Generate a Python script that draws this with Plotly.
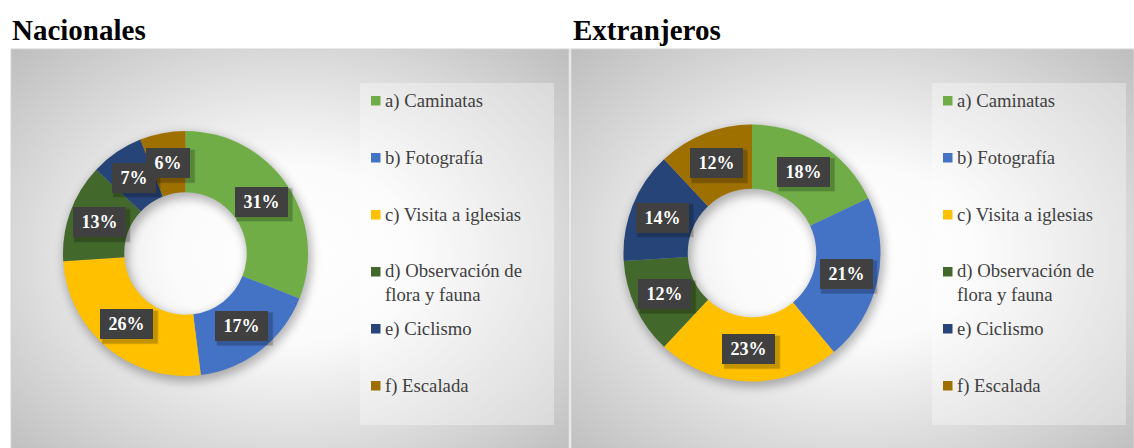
import base64
import math
import plotly.graph_objects as go

# ---------------- data ----------------
categories = ["a) Caminatas", "b) Fotografía", "c) Visita a iglesias",
              "d) Observación de flora y fauna", "e) Ciclismo", "f) Escalada"]
legend_labels = ["a) Caminatas", "b) Fotografía", "c) Visita a iglesias",
                 "d) Observación de<br>flora y fauna", "e) Ciclismo", "f) Escalada"]
nacionales = [31, 17, 26, 13, 7, 6]
extranjeros = [18, 21, 23, 12, 14, 12]
titles = ["Nacionales", "Extranjeros"]

colors = ["#70AD47", "#4472C4", "#FFC000", "#43682B", "#264478", "#9E7000"]

# ---------------- layout constants (pixels) ----------------
W, H = 1134, 448
SERIF = "Liberation Serif"

panels = [
    dict(x0=11, x1=569, y0=49, y1=459, cx=185.5, cy=253.5, R=122.5,
         leg_x0=360, leg_x1=554, title_x=10),
    dict(x0=571, x1=1134, y0=49, y1=459, cx=752, cy=253, R=128.5,
         leg_x0=932, leg_x1=1126, title_x=571),
]
leg_y0, leg_y1 = 83, 425
row_first, row_step = 101, 57
hole = 0.5


def px(x):
    return x / W


def py(y):
    return 1 - y / H


# ---------------- background SVG (gradients + soft shadows) ----------------
svg_parts = [f'<svg xmlns="http://www.w3.org/2000/svg" width="{W}" height="{H}" viewBox="0 0 {W} {H}">',
             '<defs>',
             '<radialGradient id="g" cx="0.5" cy="0.5" r="0.72">'
             '<stop offset="0" stop-color="#ffffff"/>'
             '<stop offset="0.3" stop-color="#fbfbfb"/>'
             '<stop offset="1" stop-color="#bcbcbc"/></radialGradient>',
             '<filter id="b" x="-30%" y="-30%" width="160%" height="160%"><feGaussianBlur stdDeviation="5"/></filter>',
             '</defs>',
             f'<rect x="0" y="0" width="{W}" height="{H}" fill="#ffffff"/>']
for p in panels:
    svg_parts.append(f'<rect x="{p["x0"]}" y="{p["y0"]}" width="{p["x1"]-p["x0"]}" '
                     f'height="{p["y1"]-p["y0"]}" fill="url(#g)" stroke="#d4d4d4" stroke-width="1"/>')
    svg_parts.append(f'<rect x="{p["leg_x0"]}" y="{leg_y0}" width="{p["leg_x1"]-p["leg_x0"]}" '
                     f'height="{leg_y1-leg_y0}" fill="#ffffff" fill-opacity="0.33"/>')
    rmid = p["R"] * (1 + hole) / 2
    sw = p["R"] * (1 - hole) + 4
    svg_parts.append(f'<circle cx="{p["cx"]+2}" cy="{p["cy"]+4}" r="{rmid}" fill="none" '
                     f'stroke="#000000" stroke-opacity="0.28" stroke-width="{sw}" filter="url(#b)"/>')
svg_parts.append('</svg>')
svg = "".join(svg_parts)
bg_src = "data:image/svg+xml;base64," + base64.b64encode(svg.encode("utf-8")).decode("ascii")

# ---------------- figure ----------------
fig = go.Figure()
annotations = []
shapes = []

for p, values, title in zip(panels, [nacionales, extranjeros], titles):
    R = p["R"]
    fig.add_trace(go.Pie(
        labels=categories, values=values, hole=hole, sort=False,
        direction="clockwise", rotation=0,
        marker=dict(colors=colors, line=dict(width=0)),
        textinfo="none", showlegend=False, name=title,
        hovertemplate="%{label}: %{percent}<extra></extra>",
        domain=dict(x=[px(p["cx"] - R), px(p["cx"] + R)],
                    y=[py(p["cy"] + R), py(p["cy"] - R)]),
    ))

    # data labels at ring centroid
    total = sum(values)
    cum = 0
    rlab = R * (1 + hole) / 2
    for v in values:
        ang = 2 * math.pi * (cum + v / 2) / total
        cum += v
        lx = p["cx"] + rlab * math.sin(ang)
        ly = p["cy"] - rlab * math.cos(ang)
        txt = f"{v}%"
        wbox = 45 if len(txt) >= 3 else 36
        half_w = wbox / 2 + 4
        # soft drop shadow under the label box
        for k, a in ((4, 0.10), (2.5, 0.14)):
            shapes.append(dict(type="rect", xref="paper", yref="paper", layer="above",
                               x0=px(lx - half_w + 3 - k / 2), x1=px(lx + half_w + 3 + k / 2),
                               y0=py(ly + 15 + 3 + k / 2), y1=py(ly - 15 + 3 - k / 2),
                               fillcolor=f"rgba(0,0,0,{a})", line=dict(width=0)))
        annotations.append(dict(
            x=px(lx), y=py(ly), xref="paper", yref="paper",
            xanchor="center", yanchor="middle",
            text=f"<b>{txt}</b>", showarrow=False,
            width=wbox, height=22, borderpad=4, borderwidth=0,
            bgcolor="#404040",
            font=dict(family=SERIF, size=18, color="#ffffff"),
        ))

    # title
    annotations.append(dict(
        x=px(p["title_x"]), y=py(30), xref="paper", yref="paper",
        xanchor="left", yanchor="middle", showarrow=False,
        text=f"<b>{title}</b>",
        font=dict(family=SERIF, size=29, color="#000000"),
    ))

    # legend
    for i, (lab, col) in enumerate(zip(legend_labels, colors)):
        ry = row_first + i * row_step
        sx0 = p["leg_x0"] + 11
        shapes.append(dict(type="rect", xref="paper", yref="paper",
                           x0=px(sx0), x1=px(sx0 + 9.5),
                           y0=py(ry + 4.5), y1=py(ry - 5),
                           fillcolor=col, line=dict(width=0)))
        nlines = lab.count("<br>") + 1
        annotations.append(dict(
            x=px(sx0 + 12), y=py(ry + (nlines - 1) * 10.5),
            xref="paper", yref="paper", xanchor="left", yanchor="middle",
            align="left", showarrow=False, text=lab,
            font=dict(family=SERIF, size=18.7, color="#404040"),
        ))

fig.update_layout(
    width=W, height=H,
    margin=dict(l=0, r=0, t=0, b=0),
    paper_bgcolor="#ffffff", plot_bgcolor="rgba(0,0,0,0)",
    images=[dict(source=bg_src, xref="paper", yref="paper", x=0, y=1,
                 sizex=1, sizey=1, xanchor="left", yanchor="top",
                 sizing="stretch", layer="below")],
    annotations=annotations, shapes=shapes,
    showlegend=False,
)

fig.write_html("out.html", config={"displayModeBar": False},
               post_script="document.body.style.margin='0';")
